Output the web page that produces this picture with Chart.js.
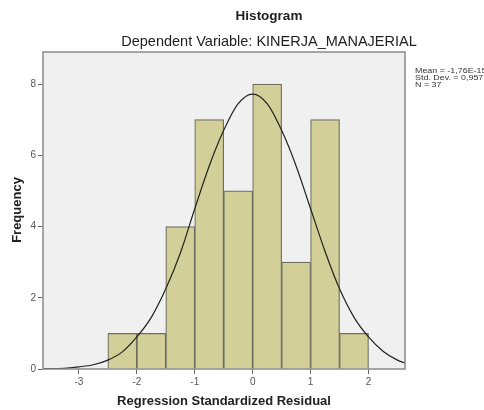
<!DOCTYPE html>
<html>
<head>
<meta charset="utf-8">
<script src="https://cdn.jsdelivr.net/npm/chart.js@4.4.1/dist/chart.umd.min.js"></script>
<style>
  html, body { margin: 0; padding: 0; background: #fff; }
  #wrap { width: 484px; height: 410px; }
</style>
</head>
<body>
<div id="wrap"><canvas id="chart" width="484" height="410"></canvas></div>
<script>
// histogram bins (left edge of each 0.5 wide bin) and counts
const binStarts = [-2.5, -2.0, -1.5, -1.0, -0.5, 0.0, 0.5, 1.0, 1.5];
const binWidth = 0.5;
const counts = [1, 1, 4, 7, 5, 8, 3, 7, 1];

// normal curve
const curveX = [-3.62, -3.25, -3.0, -2.75, -2.5, -2.25, -2.0, -1.75, -1.5, -1.25, -1.0, -0.75, -0.5, -0.25, 0.0, 0.25, 0.5, 0.75, 1.0, 1.25, 1.5, 1.75, 2.0, 2.25, 2.5, 2.63];
const curveY = [0.01, 0.02, 0.06, 0.12, 0.25, 0.48, 0.9, 1.45, 2.25, 3.25, 4.5, 5.7, 6.7, 7.45, 7.72, 7.45, 6.7, 5.7, 4.5, 3.3, 2.25, 1.45, 0.9, 0.5, 0.25, 0.17];

const xTicks = [-3, -2, -1, 0, 1, 2];
const yTicks = [0, 2, 4, 6, 8];

const title = "Histogram";
const subtitle = "Dependent Variable: KINERJA_MANAJERIAL";
const statLines = ["Mean = -1,76E-15", "Std. Dev. = 0,957", "N = 37"];

const FONT = "'Liberation Sans', Arial, sans-serif";

const frame = {
  id: "frame",
  beforeDatasetsDraw(chart) {
    const { ctx, chartArea: a } = chart;
    ctx.save();
    ctx.fillStyle = "#f0f0f0";
    ctx.fillRect(a.left, a.top, a.right - a.left, a.bottom - a.top);
    ctx.restore();
  },
  afterDraw(chart) {
    const { ctx, chartArea: a } = chart;
    ctx.save();
    ctx.strokeStyle = "#8a8a8a";
    ctx.lineWidth = 1.5;
    ctx.strokeRect(a.left, a.top, a.right - a.left, a.bottom - a.top);

    ctx.fillStyle = "#222";
    ctx.textAlign = "center";
    ctx.textBaseline = "middle";
    ctx.font = "bold 13.5px " + FONT;
    ctx.fillText(title, 269, 16);
    ctx.font = "14.5px " + FONT;
    ctx.fillText(subtitle, 269, 42);

    ctx.font = "bold 13px " + FONT;
    ctx.fillText("Regression Standardized Residual", (a.left + a.right) / 2, 401);
    ctx.save();
    ctx.translate(17, 210);
    ctx.rotate(-Math.PI / 2);
    ctx.fillText("Frequency", 0, 0);
    ctx.restore();

    // stats box text, drawn a bit wide like the original
    ctx.textAlign = "left";
    ctx.font = "7px " + FONT;
    ctx.fillStyle = "#333";
    statLines.forEach((s, i) => {
      ctx.save();
      ctx.translate(415, 71.5 + i * 6.7);
      ctx.scale(1.27, 1);
      ctx.fillText(s, 0, 0);
      ctx.restore();
    });
    ctx.restore();
  }
};

const barData = binStarts.map((s, i) => ({ x: s + binWidth / 2, y: counts[i] }));
const lineData = curveX.map((x, i) => ({ x: x, y: curveY[i] }));

new Chart(document.getElementById("chart"), {
  type: "bar",
  data: {
    datasets: [
      {
        type: "line",
        data: lineData,
        borderColor: "#222",
        borderWidth: 1.2,
        pointRadius: 0,
        cubicInterpolationMode: "monotone",
        fill: false,
        order: 0
      },
      {
        type: "bar",
        data: barData,
        backgroundColor: "#d3cf98",
        borderColor: "#6e6d5e",
        borderWidth: 1.2,
        barPercentage: 1,
        categoryPercentage: 1,
        order: 1
      }
    ]
  },
  options: {
    responsive: false,
    animation: false,
    layout: { padding: { left: 0, right: 79, top: 52, bottom: 0 } },
    plugins: { legend: { display: false }, tooltip: { enabled: false } },
    scales: {
      x: {
        type: "linear",
        min: -3.62,
        max: 2.63,
        offset: false,
        afterBuildTicks: (s) => { s.ticks = xTicks.map(v => ({ value: v })); },
        afterFit: (s) => { s.height = 41; },
        grid: { offset: false, drawOnChartArea: false, tickLength: 5, color: "#666" },
        border: { display: false },
        ticks: { color: "#555", font: { family: FONT, size: 10 }, padding: 2 }
      },
      y: {
        min: 0,
        max: 8.9,
        afterBuildTicks: (s) => { s.ticks = yTicks.map(v => ({ value: v })); },
        afterFit: (s) => { s.width = 43; },
        grid: { drawOnChartArea: false, tickLength: 5, color: "#666" },
        border: { display: false },
        ticks: { color: "#555", font: { family: FONT, size: 10 }, padding: 2 }
      }
    }
  },
  plugins: [frame]
});
</script>
</body>
</html>
